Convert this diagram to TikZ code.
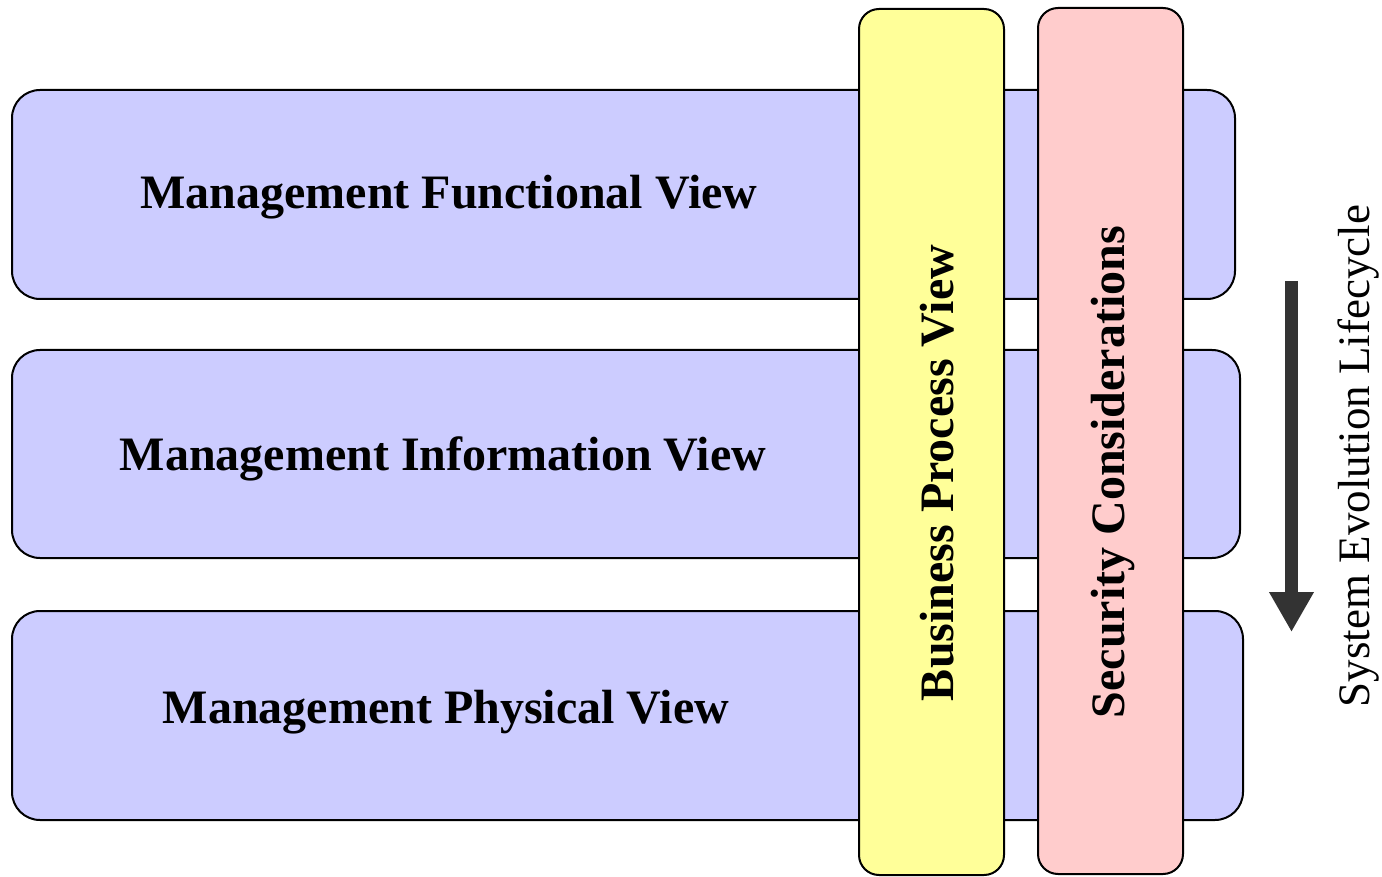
\documentclass[tikz,border=0pt]{standalone}
\usepackage{fontspec}
\setmainfont{Liberation Serif}
\usetikzlibrary{arrows.meta}
\definecolor{lav}{HTML}{CCCCFF}
\definecolor{yel}{HTML}{FFFF99}
\definecolor{pnk}{HTML}{FFCCCC}
\definecolor{arr}{HTML}{333333}
\begin{document}
\begin{tikzpicture}[x=1pt,y=-1pt,
  hbox/.style={draw=black,line width=2pt,fill=lav,rounded corners=28pt,inner sep=0pt,outer sep=0pt},
  vbar/.style={draw=black,line width=2pt,rounded corners=20pt,inner sep=0pt,outer sep=0pt,minimum width=145pt,minimum height=866pt},
  bigtext/.style={font=\bfseries\fontsize{48}{58}\selectfont,inner sep=0pt},
  sidetext/.style={font=\fontsize{45}{54}\selectfont,inner sep=0pt,rotate=90}]
\path[use as bounding box] (0,0) rectangle (1382,877);
\node[hbox,minimum width=1223pt,minimum height=209pt] (fv) at (623.5,194.5) {};
\node[hbox,minimum width=1228pt,minimum height=208pt] (iv) at (626,454) {};
\node[hbox,minimum width=1231pt,minimum height=209pt] (pv) at (627.5,715.5) {};
\node[bigtext] (fvt) at (449,197) {Management Functional View};
\node[bigtext] (ivt) at (443,459) {Management Information View};
\node[bigtext] (pvt) at (446,712) {Management Physical View};
\node[vbar,fill=yel] (bp) at (931.5,442) {};
\node[vbar,fill=pnk] (sc) at (1110.5,441) {};
\node[bigtext,rotate=90] (bpt) at (937,473) {Business Process View};
\node[bigtext,rotate=90] (sct) at (1113,472) {Security Considerations};
\coordinate (a1) at (1291.5,281);
\coordinate (a2) at (1291.5,632);
\draw[arr,line width=13pt,-{Triangle[width=42pt,length=40pt]}] (a1) -- (a2);
\node[sidetext] (sel) at (1358,456) {System Evolution Lifecycle};
\end{tikzpicture}
\end{document}
